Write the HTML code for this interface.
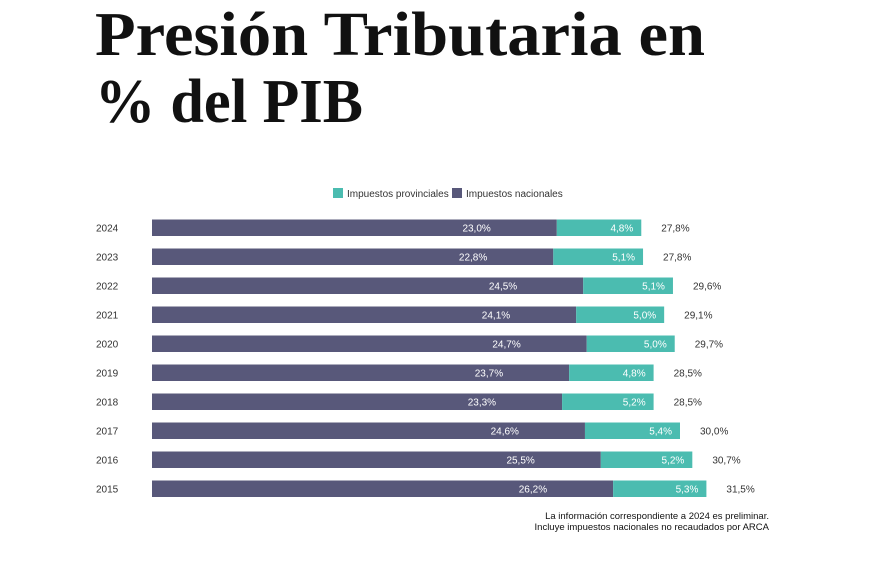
<!DOCTYPE html>
<html><head><meta charset="utf-8"><style>
body{margin:0;background:#fff;}
svg{display:block;font-family:"Liberation Sans",sans-serif;}
</style></head><body>
<svg id="chart" width="870" height="580">
<text x="95" y="55" font-family="Liberation Serif,serif" font-weight="bold" font-size="62" fill="#111" textLength="610" lengthAdjust="spacingAndGlyphs">Presión Tributaria en</text>
<text x="95" y="122" font-family="Liberation Serif,serif" font-weight="bold" font-size="62" fill="#111" textLength="268" lengthAdjust="spacingAndGlyphs">% del PIB</text>
<g>
<rect x="333" y="188" width="10" height="10" fill="#4bbcb0"/>
<text x="347" y="197" font-size="10" fill="#333">Impuestos provinciales</text>
<rect x="452" y="188" width="10" height="10" fill="#58587a"/>
<text x="466" y="197" font-size="10" fill="#333">Impuestos nacionales</text>
</g>
<g id="bars"></g>
<text x="769" y="519" font-size="9.5" fill="#111" text-anchor="end">La información correspondiente a 2024 es preliminar.</text>
<text x="769" y="530" font-size="9.5" fill="#111" text-anchor="end">Incluye impuestos nacionales no recaudados por ARCA</text>
</svg>
<script>
const years = ["2024","2023","2022","2021","2020","2019","2018","2017","2016","2015"];
const nacionales = [23.0,22.8,24.5,24.1,24.7,23.7,23.3,24.6,25.5,26.2];
const provinciales = [4.8,5.1,5.1,5.0,5.0,4.8,5.2,5.4,5.2,5.3];
const totals = [27.8,27.8,29.6,29.1,29.7,28.5,28.5,30.0,30.7,31.5];
const x0=152, scale=17.6, y0=219.5, step=29, bh=16.5;
const X=v=>x0+v*scale;
const Y=i=>y0+i*step;
const fmt=v=>v.toFixed(1).replace('.',',')+'%';
const g=document.getElementById('bars');
const NS="http://www.w3.org/2000/svg";
function mk(tag,attrs,txt){const e=document.createElementNS(NS,tag);for(const k in attrs)e.setAttribute(k,attrs[k]);if(txt!==undefined)e.textContent=txt;g.appendChild(e);return e;}
years.forEach((yr,i)=>{
  const y=Y(i), cy=y+bh/2+3.5;
  let e=mk('text',{x:96,y:cy,'font-size':10,fill:'#333'},yr);
  
  
  e=mk('rect',{x:X(0),y:y,width:X(nacionales[i])-X(0),height:bh,fill:'#58587a'});
  
  
  e=mk('rect',{x:X(nacionales[i]),y:y,width:X(nacionales[i]+provinciales[i])-X(nacionales[i]),height:bh,fill:'#4bbcb0'});
  
  
  e=mk('text',{x:X(nacionales[i])-66,y:cy,'font-size':10,fill:'#fff','text-anchor':'end'},fmt(nacionales[i]));
  
  
  e=mk('text',{x:X(nacionales[i]+provinciales[i])-8,y:cy,'font-size':10,fill:'#fff','text-anchor':'end'},fmt(provinciales[i]));
  
  
  e=mk('text',{x:X(nacionales[i]+provinciales[i])+20,y:cy,'font-size':10,fill:'#333'},fmt(totals[i]));
  
  
});
</script>
</body></html>
